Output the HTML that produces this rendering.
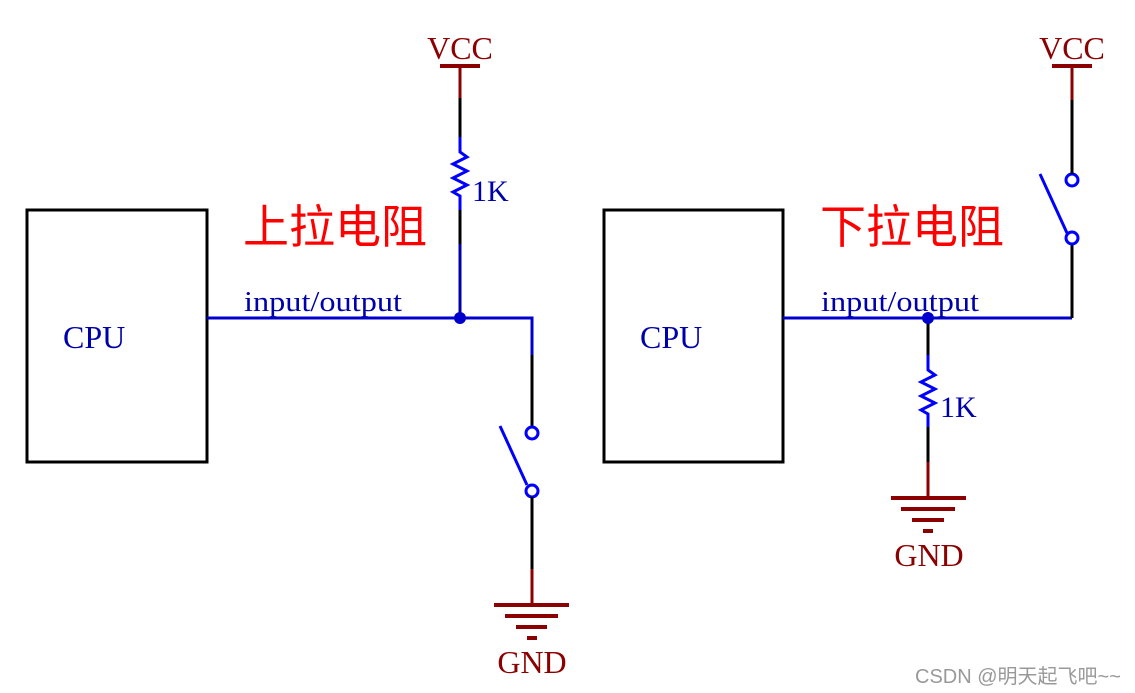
<!DOCTYPE html><html><head><meta charset="utf-8"><style>body{margin:0;background:#fff}svg{display:block}</style></head><body>
<svg width="1135" height="693" xmlns="http://www.w3.org/2000/svg" font-family="Liberation Serif, serif">
<g fill="none" stroke-width="3">
<rect x="27" y="210" width="180" height="252" stroke="#000"/>
<line x1="440" y1="66" x2="480" y2="66" stroke="#8b0000" stroke-width="4"/>
<line x1="460" y1="66" x2="460" y2="98" stroke="#8b0000"/>
<line x1="460" y1="98" x2="460" y2="137" stroke="#000"/>
<polyline points="460,137 460,152 467,157 453,164 467,171 453,178 467,185 453,192 460,196 460,210" stroke="#00f"/>
<line x1="460" y1="210" x2="460" y2="244" stroke="#000"/>
<line x1="460" y1="244" x2="460" y2="318" stroke="#0000aa"/>
<polyline points="207,318 532,318 532,355" stroke="#0000cc"/>
<line x1="532" y1="355" x2="532" y2="427" stroke="#000"/>
<circle cx="532" cy="433" r="6" stroke="#00f"/>
<circle cx="532" cy="491" r="6" stroke="#00f"/>
<line x1="500" y1="426" x2="527" y2="485" stroke="#00f"/>
<line x1="532" y1="497" x2="532" y2="569" stroke="#000"/>
<line x1="532" y1="569" x2="532" y2="605" stroke="#8b0000"/>
<g stroke="#8b0000" stroke-width="4"><line x1="494" y1="605" x2="569" y2="605"/><line x1="505" y1="616" x2="558" y2="616"/><line x1="516" y1="627" x2="547" y2="627"/><line x1="527" y1="638" x2="537" y2="638"/></g>
<rect x="604" y="210" width="179" height="252" stroke="#000"/>
<line x1="783" y1="318" x2="1072" y2="318" stroke="#0000cc"/>
<line x1="1072" y1="318" x2="1072" y2="244" stroke="#000"/>
<circle cx="1072" cy="238" r="6" stroke="#00f"/>
<circle cx="1072" cy="180" r="6" stroke="#00f"/>
<line x1="1040" y1="174" x2="1067" y2="233" stroke="#00f"/>
<line x1="1072" y1="174" x2="1072" y2="100" stroke="#000"/>
<line x1="1072" y1="100" x2="1072" y2="66" stroke="#8b0000"/>
<line x1="1052" y1="66" x2="1092" y2="66" stroke="#8b0000" stroke-width="4"/>
<line x1="928" y1="318" x2="928" y2="355" stroke="#000"/>
<polyline points="928,355 928,370 935,375 921,382 935,389 921,396 935,403 921,410 928,414 928,427" stroke="#00f"/>
<line x1="928" y1="427" x2="928" y2="462" stroke="#000"/>
<line x1="928" y1="462" x2="928" y2="498" stroke="#8b0000"/>
<g stroke="#8b0000" stroke-width="4"><line x1="891" y1="498" x2="966" y2="498"/><line x1="901" y1="509" x2="955" y2="509"/><line x1="912" y1="520" x2="944" y2="520"/><line x1="923" y1="531" x2="933" y2="531"/></g>
</g>
<circle cx="460" cy="318" r="6" fill="#0000cc"/>
<circle cx="928" cy="318" r="6" fill="#0000cc"/>
<g font-size="32" fill="#8b0000" text-anchor="middle">
<text x="460" y="59">VCC</text><text x="1072" y="59">VCC</text>
<text x="532" y="673">GND</text><text x="929" y="566">GND</text>
</g>
<g font-size="30" fill="#0000aa">
<text x="472" y="201">1K</text><text x="940" y="417">1K</text>
<text x="63" y="348" font-size="32">CPU</text><text x="640" y="348" font-size="32">CPU</text>
<text x="244" y="311" font-size="29" textLength="158" lengthAdjust="spacingAndGlyphs">input/output</text><text x="821" y="311" font-size="29" textLength="158" lengthAdjust="spacingAndGlyphs">input/output</text>
</g>
<g font-family="Liberation Sans, Noto Sans CJK SC, sans-serif" font-size="46" fill="#ff0000">
<text x="243" y="243">上拉电阻</text><text x="820" y="243">下拉电阻</text>
</g>
<text x="915" y="683" font-family="Liberation Sans, Noto Sans CJK SC, sans-serif" font-size="20" fill="#999">CSDN @明天起飞吧~~</text>
</svg></body></html>
